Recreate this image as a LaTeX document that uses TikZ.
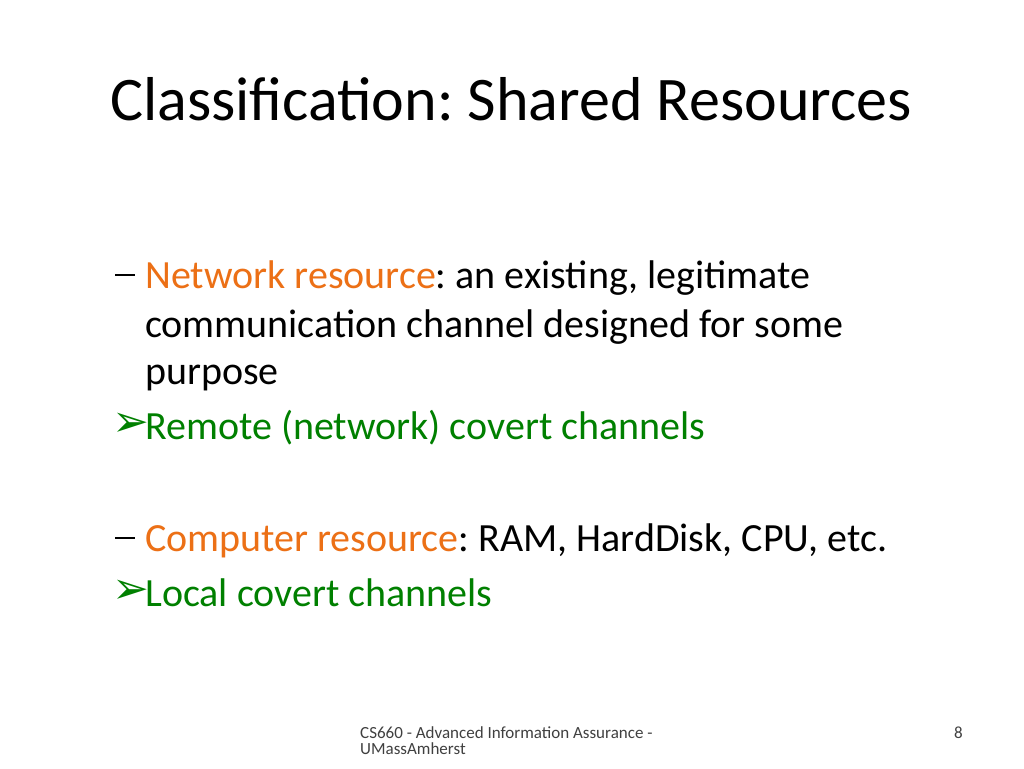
\documentclass[tikz,border=0pt]{standalone}
\usepackage{fontspec}
\setmainfont{Carlito}
\newfontfamily\dejavu{DejaVu Sans}
\definecolor{orng}{RGB}{236,112,22}
\definecolor{grn}{RGB}{0,128,0}
\begin{document}
\frenchspacing
\begin{tikzpicture}[x=1pt,y=-1pt,
  body/.style={anchor=base west,inner sep=0pt,font=\fontsize{40}{48}\selectfont},
  arr/.style={anchor=base west,inner sep=0pt,text=grn,font=\dejavu\fontsize{44}{48}\selectfont},
  bardash/.style={line width=2.6pt},
  foot/.style={anchor=base west,inner sep=0pt,font=\fontsize{17}{19}\selectfont,text=black!75}]
\useasboundingbox (0,0) rectangle (1024,768);
\fill[white] (0,0) rectangle (1024,768);
\node[anchor=base,inner sep=0pt,font=\fontsize{62}{70}\selectfont] (title) at (511,120) {Classification: Shared Resources};
\coordinate (d1a) at (115,275); \coordinate (d1b) at (135,275);
\draw[bardash] (d1a) -- (d1b);
\node[body] (l1) at (145,288) {\textcolor{orng}{Network resource}: an existing, legitimate};
\node[body] (l2) at (145,337) {communication channel designed for some};
\node[body] (l3) at (145,384) {purpose};
\node[arr] (a1) at (112,436) {➢};
\node[body,text=grn] (l4) at (145,439) {Remote (network) covert channels};
\coordinate (d2a) at (115,538); \coordinate (d2b) at (135,538);
\draw[bardash] (d2a) -- (d2b);
\node[body] (l5) at (145,551) {\textcolor{orng}{Computer resource}: RAM, HardDisk, CPU, etc.};
\node[arr] (a2) at (112,603) {➢};
\node[body,text=grn] (l6) at (145,606) {Local covert channels};
\node[foot] (f1) at (360,738) {CS660 - Advanced Information Assurance -};
\node[foot] (f2) at (360,754) {UMassAmherst};
\node[foot,anchor=base east] (pg) at (963,738) {8};
\end{tikzpicture}
\end{document}
